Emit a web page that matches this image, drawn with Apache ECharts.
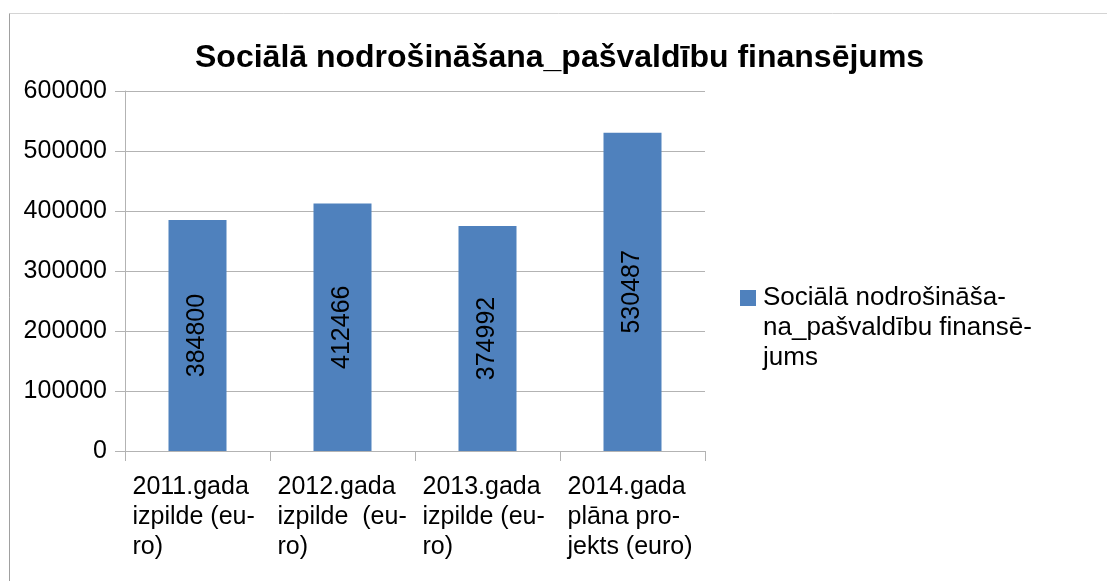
<!DOCTYPE html>
<html>
<head>
<meta charset="utf-8">
<script src="https://cdn.jsdelivr.net/npm/echarts@6/dist/echarts.min.js"></script>
<style>
    html, body { margin: 0; padding: 0; background: #fff; }
    #chart { width: 1107px; height: 581px; }
</style>
</head>
<body>
<div id="chart"></div>
<script>
// dati
var seriesName = 'Sociālā nodrošināšana_pašvaldību finansējums';
var categories = [
    '2011.gada\nizpilde (eu-\nro)',
    '2012.gada\nizpilde  (eu-\nro)',
    '2013.gada\nizpilde (eu-\nro)',
    '2014.gada\nplāna pro-\njekts (euro)'
];
var values = [384800, 412466, 374992, 530487];
var yTicks = [0, 100000, 200000, 300000, 400000, 500000, 600000];

var font = 'Liberation Sans, Arial, sans-serif';

var chart = echarts.init(document.getElementById('chart'));
var option = {
    animation: false,
    backgroundColor: '#fff',
    textStyle: { fontFamily: font },
    title: {
        text: seriesName,
        left: 190,
        top: 37,
        textStyle: {
            fontFamily: font,
            fontSize: 32,
            fontWeight: 'bold',
            color: '#000'
        }
    },
    legend: {
        left: 740,
        top: 223,
        padding: 0,
        icon: 'rect',
        itemWidth: 16,
        itemHeight: 16,
        data: [seriesName],
        formatter: function () {
            // tukšas rindas, lai ikona stāv pie pirmās rindas
            return '\n\nSociālā nodrošināša-\nna_pašvaldību finansē-\njums';
        },
        textStyle: {
            fontFamily: font,
            fontSize: 26,
            lineHeight: 30,
            color: '#000',
            padding: [0, 0, 0, 2]
        }
    },
    grid: {
        left: 125,
        right: 402,
        top: 91,
        bottom: 130
    },
    xAxis: {
        type: 'category',
        data: categories,
        axisLine: { lineStyle: { color: '#b3b3b3', width: 1 } },
        axisTick: { show: true, length: 10, lineStyle: { color: '#b3b3b3' } },
        axisLabel: {
            interval: 0,
            margin: 21,
            formatter: function (value) {
                return value.split('\n').map(function (s) {
                    return '{a|' + s + '}';
                }).join('\n');
            },
            rich: {
                a: {
                    width: 130,
                    align: 'left',
                    fontFamily: font,
                    fontSize: 25,
                    lineHeight: 30,
                    color: '#000'
                }
            }
        }
    },
    yAxis: {
        type: 'value',
        min: yTicks[0],
        max: yTicks[yTicks.length - 1],
        interval: 100000,
        axisLine: { show: true, lineStyle: { color: '#b3b3b3', width: 1 } },
        axisTick: { show: true, length: 10, lineStyle: { color: '#b3b3b3' } },
        splitLine: { lineStyle: { color: '#b3b3b3', width: 1 } },
        axisLabel: {
            margin: 18,
            fontFamily: font,
            fontSize: 25,
            color: '#000',
            formatter: function (v) {
                return String(v);
            }
        }
    },
    series: [
        {
            name: seriesName,
            type: 'bar',
            data: values,
            barWidth: '40%',
            itemStyle: { color: '#4f81bd' },
            label: {
                show: true,
                position: 'inside',
                rotate: 90,
                fontFamily: font,
                fontSize: 25,
                color: '#000'
            }
        }
    ],
    graphic: [
        {
            type: 'line',
            shape: { x1: 9.5, y1: 13.5, x2: 1107, y2: 13.5 },
            style: { stroke: '#d4d4d4', lineWidth: 1 }
        },
        {
            type: 'line',
            shape: { x1: 9.5, y1: 13.5, x2: 9.5, y2: 581 },
            style: { stroke: '#a0a0a0', lineWidth: 1 }
        }
    ]
};
chart.setOption(option);
</script>
</body>
</html>
